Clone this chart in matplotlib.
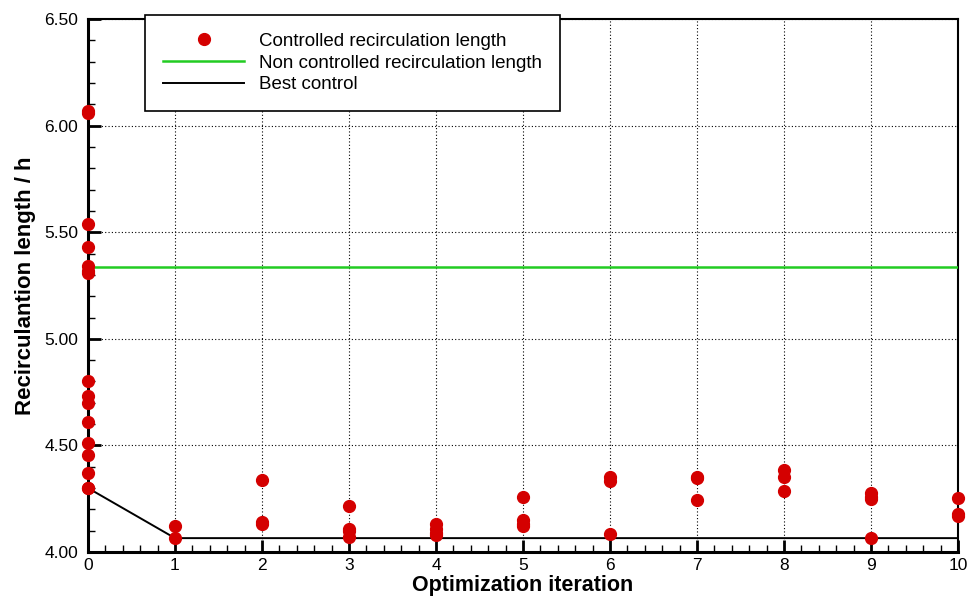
import numpy as np
import matplotlib.pyplot as plt
from matplotlib.ticker import MultipleLocator, FormatStrFormatter

plt.rcParams['font.family'] = ['Liberation Sans', 'DejaVu Sans']

# controlled recirculation length per optimization iteration
it_x = [0]*16 + [1]*2 + [2]*3 + [3]*4 + [4]*4 + [5]*4 + [6]*3 + [7]*3 + [8]*3 + [9]*4 + [10]*3
it_y = [6.07, 6.06, 5.54, 5.43, 5.34, 5.32, 5.31, 4.80, 4.73, 4.70, 4.61, 4.51, 4.455, 4.37, 4.30, 4.30,
        4.12, 4.065,
        4.34, 4.14, 4.13,
        4.215, 4.11, 4.10, 4.07,
        4.13, 4.11, 4.09, 4.08,
        4.26, 4.15, 4.13, 4.12,
        4.35, 4.335, 4.085,
        4.35, 4.345, 4.245,
        4.385, 4.35, 4.285,
        4.275, 4.26, 4.25, 4.065,
        4.255, 4.18, 4.17]

non_controlled = 5.337

best_x = [0, 1, 2, 3, 4, 5, 6, 7, 8, 9, 10]
best_y = [4.30, 4.065, 4.065, 4.065, 4.065, 4.065, 4.065, 4.065, 4.065, 4.065, 4.065]

fig = plt.figure(figsize=(9.71, 5.99), dpi=100)
ax = fig.add_axes([0.0906, 0.0785, 0.896, 0.8895])

ax.plot(it_x, it_y, 'o', color='#d40000', markersize=8.5, label='Controlled recirculation length',
        zorder=4, clip_on=False)
ax.axhline(non_controlled, color='#22cc22', lw=1.8, label='Non controlled recirculation length', zorder=3)
ax.plot(best_x, best_y, color='black', lw=1.4, label='Best control', zorder=3)

ax.set_xlim(0, 10)
ax.set_ylim(4.0, 6.5)
ax.xaxis.set_major_locator(MultipleLocator(1))
ax.xaxis.set_minor_locator(MultipleLocator(0.2))
ax.yaxis.set_major_locator(MultipleLocator(0.5))
ax.yaxis.set_minor_locator(MultipleLocator(0.1))
ax.yaxis.set_major_formatter(FormatStrFormatter('%.2f'))

ax.grid(True, which='major', color='black', linestyle=(0, (1, 2)), lw=0.8)
ax.tick_params(which='major', direction='in', length=9, width=2, labelsize=12.5)
ax.tick_params(axis='x', which='major', pad=4)
ax.tick_params(axis='y', which='major', pad=7)
ax.tick_params(which='minor', direction='in', length=5, width=1)
for s in ax.spines.values():
    s.set_linewidth(1.5)
ax.spines['left'].set_linewidth(2.2)
ax.spines['bottom'].set_linewidth(2.2)

ax.set_xlabel('Optimization iteration', fontsize=15.5, fontweight='bold')
ax.xaxis.set_label_coords(0.5, -0.044)
ax.set_ylabel('Recirculantion length / h', fontsize=16, fontweight='bold', labelpad=6)

leg = ax.legend(loc='upper left', bbox_to_anchor=(0.066, 1.008), fontsize=13.5, frameon=True,
                fancybox=False, edgecolor='black', framealpha=1, borderpad=0.95,
                handlelength=4.3, labelspacing=0.25, handletextpad=0.8, borderaxespad=0)
leg.get_frame().set_linewidth(1.2)
leg.set_zorder(10)

fig.savefig('out.png', dpi=100)
